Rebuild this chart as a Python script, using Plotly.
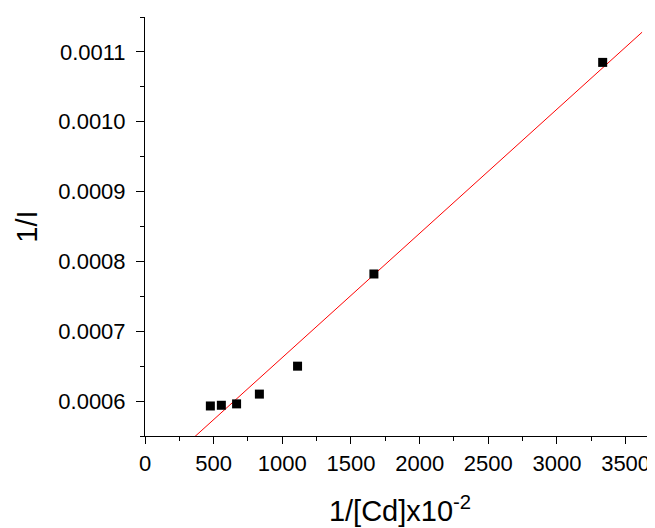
import plotly.graph_objects as go

# Data
inv_cd = [476, 556, 667, 833, 1111, 1667, 3333]
inv_i = [0.000593, 0.000594, 0.000596, 0.000610, 0.000650, 0.000782, 0.001085]

# Linear fit line as drawn in the reference (slope / intercept)
fit_slope = 1.778e-7
fit_intercept = 4.846e-4
fit_x = [0, 3620]
fit_y = [fit_intercept + fit_slope * x for x in fit_x]

font_family = "Liberation Sans, Arial, sans-serif"

fig = go.Figure()
fig.add_trace(go.Scatter(
    x=fit_x, y=fit_y, mode="lines",
    line=dict(color="#ff0000", width=1),
    showlegend=False, hoverinfo="skip",
))
fig.add_trace(go.Scatter(
    x=inv_cd, y=inv_i, mode="markers",
    marker=dict(symbol="square", size=9, color="black"),
    showlegend=False,
))

fig.update_layout(
    width=647, height=520,
    margin=dict(l=137, r=0, t=9, b=92, autoexpand=False),
    paper_bgcolor="white", plot_bgcolor="white",
    font=dict(family=font_family, size=22, color="black"),
    xaxis=dict(
        range=[0, 3714], dtick=500, tick0=0,
        showline=True, linecolor="black", linewidth=1,
        showgrid=False, zeroline=False, automargin=False,
        ticks="outside", ticklen=7, tickwidth=1, tickcolor="black",
        minor=dict(dtick=250, ticks="outside", ticklen=4, tickcolor="black", showgrid=False),
        title=dict(text="1/[Cd]x10<sup>-2</sup>", font=dict(size=29), standoff=25),
        tickfont=dict(size=22),
        ticklabelstandoff=1,
    ),
    yaxis=dict(
        range=[0.00055, 0.00115], dtick=0.0001, tick0=0,
        tickformat=".4f",
        showline=True, linecolor="black", linewidth=1,
        showgrid=False, zeroline=False, automargin=False,
        ticks="outside", ticklen=8, tickwidth=1, tickcolor="black",
        minor=dict(dtick=0.00005, ticks="outside", ticklen=4, tickcolor="black", showgrid=False),
        title=dict(text="1/I", font=dict(size=29), standoff=12),
        tickfont=dict(size=22),
        ticklabelstandoff=6,
    ),
)

fig.write_html("out.html")
